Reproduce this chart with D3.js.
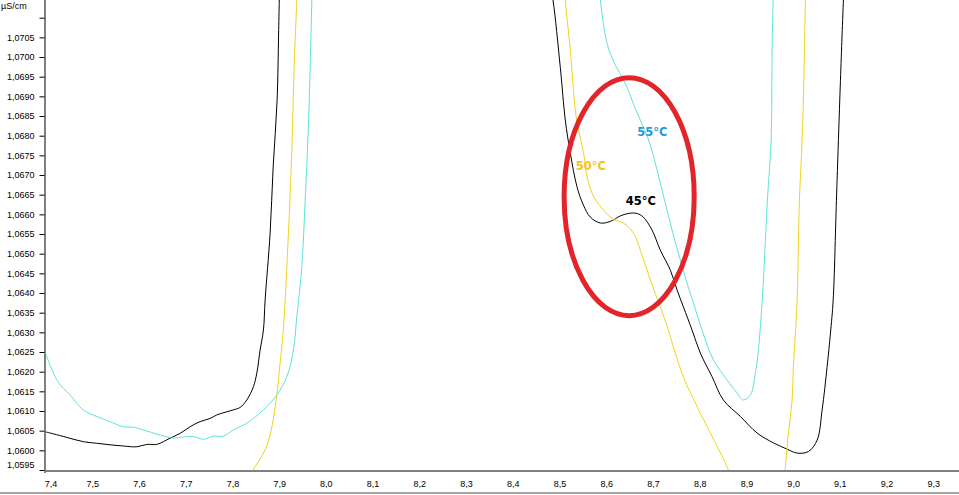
<!DOCTYPE html>
<html>
<head>
    <meta charset="utf-8">
    <script src="https://d3js.org/d3.v7.min.js"></script>
    <style>
        body { margin: 0; background: #fff; }
        .axis text { font-family: "Liberation Sans", Arial, sans-serif; font-size: 9px; fill: #000; }
        .axis path, .axis line { stroke: #000; }
        .temp { font-family: "DejaVu Sans", Verdana, sans-serif; font-size: 11.5px; font-weight: bold; }
    </style>
</head>
<body>
<div id="chart"></div>
<script>
    // tick values
    const xTicks = [7.4, 7.5, 7.6, 7.7, 7.8, 7.9, 8.0, 8.1, 8.2, 8.3, 8.4, 8.5, 8.6, 8.7, 8.8, 8.9, 9.0, 9.1, 9.2, 9.3];
    const yTicks = [1.0595, 1.0600, 1.0605, 1.0610, 1.0615, 1.0620, 1.0625, 1.0630, 1.0635, 1.0640, 1.0645,
        1.0650, 1.0655, 1.0660, 1.0665, 1.0670, 1.0675, 1.0680, 1.0685, 1.0690, 1.0695, 1.0700, 1.0705, 1.0710];
    const yUnit = "µS/cm";

    // 45 °C curve (two branches, each leaves the top of the plot)
    const t45 = [
        [[7.4000, 1.06047], [7.4167, 1.06042], [7.4454, 1.06033], [7.4809, 1.06022], [7.5096, 1.06018],
         [7.5381, 1.06014], [7.5666, 1.06011], [7.5953, 1.06009], [7.6167, 1.06015], [7.6381, 1.06015],
         [7.6522, 1.06022], [7.6666, 1.06031], [7.6880, 1.06043], [7.7094, 1.06060], [7.7308, 1.06073],
         [7.7522, 1.06081], [7.7666, 1.06090], [7.7880, 1.06098], [7.8021, 1.06103], [7.8164, 1.06109],
         [7.8308, 1.06128], [7.8450, 1.06162], [7.8522, 1.06196], [7.8593, 1.06255], [7.8664, 1.06306],
         [7.8700, 1.06382], [7.8807, 1.06552], [7.8872, 1.06720], [7.8957, 1.06891], [7.8989, 1.07061],
         [7.9011, 1.07196]],
        [[8.4782, 1.07196], [8.4861, 1.07145], [8.5017, 1.06974], [8.5124, 1.06840], [8.5231, 1.06756],
         [8.5375, 1.06670], [8.5510, 1.06624], [8.5660, 1.06593], [8.5874, 1.06578], [8.6088, 1.06582],
         [8.6302, 1.06596], [8.6516, 1.06603], [8.6666, 1.06602], [8.6794, 1.06593], [8.6981, 1.06560],
         [8.7158, 1.06509], [8.7373, 1.06458], [8.7516, 1.06408], [8.7651, 1.06365], [8.7837, 1.06306],
         [8.8015, 1.06247], [8.8266, 1.06187], [8.8507, 1.06128], [8.8872, 1.06086], [8.9229, 1.06044],
         [8.9578, 1.06019], [8.9872, 1.06003], [9.0086, 1.05993], [9.0328, 1.05997], [9.0514, 1.06026],
         [9.0621, 1.06103], [9.0728, 1.06213], [9.0799, 1.06298], [9.0857, 1.06382], [9.0927, 1.06636],
         [9.1013, 1.06941], [9.1077, 1.07145], [9.1099, 1.07196]]
    ];

    // 50 °C curve
    const t50 = [
        [[7.8379, 1.05912], [7.8450, 1.05950], [7.8550, 1.05970], [7.8664, 1.05993], [7.8743, 1.06014],
         [7.8807, 1.06039], [7.8872, 1.06077], [7.8951, 1.06141], [7.9021, 1.06222], [7.9092, 1.06311],
         [7.9199, 1.06552], [7.9272, 1.06763], [7.9321, 1.06974], [7.9379, 1.07145], [7.9396, 1.07196]],
        [[8.5103, 1.07196], [8.5124, 1.07145], [8.5231, 1.07018], [8.5338, 1.06865], [8.5409, 1.06814],
         [8.5516, 1.06756], [8.5589, 1.06696], [8.5730, 1.06645], [8.5944, 1.06611], [8.6158, 1.06587],
         [8.6366, 1.06578], [8.6580, 1.06553], [8.6730, 1.06509], [8.6944, 1.06433], [8.7158, 1.06365],
         [8.7330, 1.06306], [8.7437, 1.06263], [8.7651, 1.06187], [8.7944, 1.06111], [8.8229, 1.06044],
         [8.8587, 1.05958], [8.8657, 1.05935]],
        [[8.9814, 1.05935], [8.9835, 1.05958], [8.9899, 1.06044], [8.9979, 1.06128], [9.0006, 1.06213],
         [9.0049, 1.06298], [9.0086, 1.06382], [9.0135, 1.06636], [9.0193, 1.06789], [9.0220, 1.06891],
         [9.0263, 1.07145], [9.0274, 1.07196]]
    ];

    // 55 °C curve
    const t55 = [
        [[7.4000, 1.06247], [7.4268, 1.06174], [7.4525, 1.06141], [7.4803, 1.06103], [7.5096, 1.06086],
         [7.5381, 1.06073], [7.5660, 1.06060], [7.5874, 1.06059], [7.6088, 1.06052], [7.6452, 1.06039],
         [7.6730, 1.06031], [7.6880, 1.06033], [7.7165, 1.06035], [7.7379, 1.06028], [7.7593, 1.06036],
         [7.7807, 1.06036], [7.8021, 1.06052], [7.8308, 1.06069], [7.8664, 1.06103], [7.8951, 1.06141],
         [7.9165, 1.06187], [7.9306, 1.06255], [7.9379, 1.06340], [7.9486, 1.06467], [7.9557, 1.06636],
         [7.9621, 1.06807], [7.9664, 1.06974], [7.9700, 1.07145], [7.9707, 1.07196]],
        [[8.5852, 1.07196], [8.5874, 1.07145], [8.6017, 1.07035], [8.6173, 1.06985], [8.6323, 1.06952],
         [8.6452, 1.06921], [8.6602, 1.06875], [8.6730, 1.06840], [8.6908, 1.06789], [8.7088, 1.06713],
         [8.7229, 1.06645], [8.7409, 1.06560], [8.7587, 1.06484], [8.7730, 1.06425], [8.7865, 1.06375],
         [8.8051, 1.06306], [8.8293, 1.06230], [8.8587, 1.06179], [8.8801, 1.06146], [8.8936, 1.06128],
         [8.9086, 1.06141], [8.9193, 1.06197], [8.9257, 1.06255], [8.9315, 1.06340], [8.9364, 1.06433],
         [8.9450, 1.06636], [8.9529, 1.06789], [8.9550, 1.07025], [8.9572, 1.07145], [8.9578, 1.07196]]
    ];

    const series = [
        { name: "45°C", color: "#000000", data: t45 },
        { name: "50°C", color: "#f2d21e", data: t50 },
        { name: "55°C", color: "#5ce3da", data: t55 }
    ];

    // curve labels and highlight ellipse, in data units
    const labels = [
        { text: "55°C", x: 8.6987, y: 1.06810, color: "#1e9ad8" },
        { text: "50°C", x: 8.5670, y: 1.06723, color: "#f2c41a" },
        { text: "45°C", x: 8.6740, y: 1.06635, color: "#000000" }
    ];
    const ring = { cx: 8.6491, cy: 1.06645, rx: 0.1392, ry: 0.003025 };

    const width = 959, height = 495;
    const plot = { left: 45.5, right: 959, top: 0, bottom: 470 };

    const x = d3.scaleLinear().domain([7.4, 9.355]).range([plot.left, plot.right]);
    const y = d3.scaleLinear().domain([1.0595, 1.07145]).range([plot.bottom, plot.top]);

    const svg = d3.select("#chart")
        .append("svg")
        .attr("width", width)
        .attr("height", height);

    svg.append("defs").append("clipPath")
        .attr("id", "clip")
        .append("rect")
        .attr("x", plot.left)
        .attr("y", plot.top)
        .attr("width", plot.right - plot.left)
        .attr("height", plot.bottom - plot.top);

    // x axis
    const fmt1 = d3.format(".1f");
    const xAxis = svg.append("g")
        .attr("class", "axis")
        .attr("transform", `translate(0, ${plot.bottom + 0.5})`)
        .call(d3.axisBottom(x)
            .tickValues(xTicks)
            .tickSize(0)
            .tickSizeOuter(0)
            .tickPadding(10)
            .tickFormat(d => fmt1(d).replace(".", ",")));
    xAxis.selectAll(".tick text").filter(d => d === 7.4).attr("dx", 5);

    // y axis
    const fmt4 = d3.format(".4f");
    const yAxis = svg.append("g")
        .attr("class", "axis")
        .attr("transform", `translate(${plot.left - 1}, 0)`)
        .call(d3.axisLeft(y)
            .tickValues(yTicks)
            .tickSize(5)
            .tickSizeOuter(0)
            .tickPadding(5)
            .tickFormat(d => d > 1.07075 ? "" : fmt4(d).replace(".", ",")));
    yAxis.select(".domain").attr("d", `M0.5,0V${plot.bottom + 3}`);
    yAxis.selectAll(".tick text").filter(d => d === 1.0595).attr("dy", "-0.25em");

    svg.append("text")
        .attr("x", 1)
        .attr("y", 9)
        .style("font-family", '"Liberation Sans", Arial, sans-serif')
        .style("font-size", "9px")
        .text(yUnit);

    // curves
    const line = d3.line()
        .x(d => x(d[0]))
        .y(d => y(d[1]))
        .curve(d3.curveCatmullRom.alpha(0.5));

    const g = svg.append("g").attr("clip-path", "url(#clip)");
    series.forEach(s => {
        g.selectAll(null)
            .data(s.data)
            .join("path")
            .attr("fill", "none")
            .attr("stroke", s.color)
            .attr("stroke-width", 1)
            .attr("d", line);
    });

    // red highlight
    svg.append("ellipse")
        .attr("cx", x(ring.cx))
        .attr("cy", y(ring.cy))
        .attr("rx", x(ring.cx + ring.rx) - x(ring.cx))
        .attr("ry", y(ring.cy - ring.ry) - y(ring.cy))
        .attr("fill", "none")
        .attr("stroke", "#e3242b")
        .attr("stroke-width", 5);

    svg.selectAll(".temp")
        .data(labels)
        .join("text")
        .attr("class", "temp")
        .attr("x", d => x(d.x))
        .attr("y", d => y(d.y))
        .attr("dy", "0.36em")
        .attr("text-anchor", "middle")
        .style("fill", d => d.color)
        .text(d => d.text);

    // bottom frame line
    svg.append("rect")
        .attr("x", 0)
        .attr("y", 492)
        .attr("width", width)
        .attr("height", 2)
        .attr("fill", "#a6a6a6");
</script>
</body>
</html>
